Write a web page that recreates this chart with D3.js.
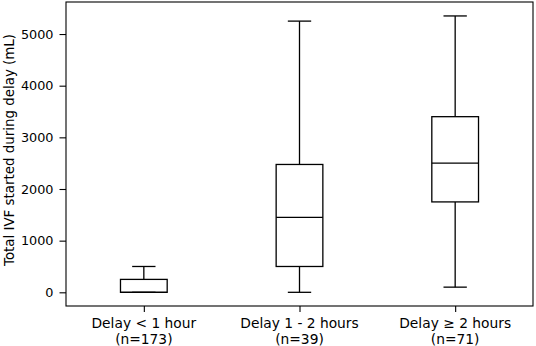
<!DOCTYPE html>
<html>
<head>
<meta charset="utf-8">
<script src="https://cdn.jsdelivr.net/npm/d3@7"></script>
<style>
  body { margin: 0; background: #fff; }
  text { font-family: "DejaVu Sans", sans-serif; fill: #000; }
</style>
</head>
<body>
<svg width="536" height="346"></svg>
<script>
// group labels and box-plot statistics (mL)
var groups = ['Delay < 1 hour', 'Delay 1 - 2 hours', 'Delay \u2265 2 hours'];
var counts = ['(n=173)', '(n=39)', '(n=71)'];
var whiskLow = [0, 0, 100];
var q1 = [0, 500, 1750];
var median = [0, 1450, 2500];
var q3 = [250, 2475, 3400];
var whiskHigh = [500, 5250, 5350];
var yTicks = [0, 1000, 2000, 3000, 4000, 5000];

var svg = d3.select('svg');
var padding = {t: 2, r: 3, b: 40, l: 66};
var chartWidth = 536 - padding.l - padding.r;
var chartHeight = 346 - padding.t - padding.b;

var chartG = svg.append('g')
    .attr('transform', 'translate(' + [padding.l, padding.t] + ')');

var xScale = d3.scaleLinear().domain([0.5, 3.5]).range([0, chartWidth]);
var yScale = d3.scaleLinear().domain([-265, 5620]).range([chartHeight, 0]);

var boxW = xScale(1.3) - xScale(1);
var capW = boxW / 2;

// y axis
var yAxisG = chartG.append('g')
    .call(d3.axisLeft(yScale).tickValues(yTicks).tickSize(6.5).tickPadding(6).tickFormat(d3.format('d')));
yAxisG.select('.domain').remove();
yAxisG.selectAll('line').attr('stroke-width', 1.1);
yAxisG.selectAll('text').style('font-size', '12.8px').style('font-family', '"DejaVu Sans", sans-serif');

// x axis
var xAxisG = chartG.append('g')
    .attr('transform', 'translate(' + [0, chartHeight] + ')')
    .call(d3.axisBottom(xScale).tickValues([1, 2, 3]).tickSize(6).tickFormat(''));
xAxisG.select('.domain').remove();
xAxisG.selectAll('line').attr('stroke-width', 1.1);

groups.forEach(function(g, i) {
    var t = chartG.append('text')
        .attr('x', xScale(i + 1))
        .attr('y', chartHeight + 22)
        .attr('text-anchor', 'middle')
        .style('font-size', '13.8px');
    t.append('tspan').attr('x', xScale(i + 1)).text(g);
    t.append('tspan').attr('x', xScale(i + 1)).attr('dy', 15.5).text(counts[i]);
});

// frame
chartG.append('rect')
    .attr('width', chartWidth).attr('height', chartHeight)
    .attr('fill', 'none').attr('stroke', '#000').attr('stroke-width', 1.1);

// boxes
var idx = d3.range(groups.length);
var boxG = chartG.selectAll('.box').data(idx).enter()
    .append('g').attr('class', 'box')
    .attr('stroke', '#000').attr('stroke-width', 1.3).attr('fill', 'none');

boxG.append('line')
    .attr('x1', function(i) { return xScale(i + 1); })
    .attr('x2', function(i) { return xScale(i + 1); })
    .attr('y1', function(i) { return yScale(whiskLow[i]); })
    .attr('y2', function(i) { return yScale(q1[i]); });
boxG.append('line')
    .attr('x1', function(i) { return xScale(i + 1); })
    .attr('x2', function(i) { return xScale(i + 1); })
    .attr('y1', function(i) { return yScale(q3[i]); })
    .attr('y2', function(i) { return yScale(whiskHigh[i]); });
boxG.append('line')
    .attr('x1', function(i) { return xScale(i + 1) - capW / 2; })
    .attr('x2', function(i) { return xScale(i + 1) + capW / 2; })
    .attr('y1', function(i) { return yScale(whiskLow[i]); })
    .attr('y2', function(i) { return yScale(whiskLow[i]); });
boxG.append('line')
    .attr('x1', function(i) { return xScale(i + 1) - capW / 2; })
    .attr('x2', function(i) { return xScale(i + 1) + capW / 2; })
    .attr('y1', function(i) { return yScale(whiskHigh[i]); })
    .attr('y2', function(i) { return yScale(whiskHigh[i]); });
boxG.append('rect')
    .attr('x', function(i) { return xScale(i + 1) - boxW / 2; })
    .attr('width', boxW)
    .attr('y', function(i) { return yScale(q3[i]); })
    .attr('height', function(i) { return yScale(q1[i]) - yScale(q3[i]); });
boxG.append('line')
    .attr('x1', function(i) { return xScale(i + 1) - boxW / 2; })
    .attr('x2', function(i) { return xScale(i + 1) + boxW / 2; })
    .attr('y1', function(i) { return yScale(median[i]); })
    .attr('y2', function(i) { return yScale(median[i]); });

// y label
svg.append('text')
    .attr('transform', 'translate(13.5,150) rotate(-90)')
    .attr('text-anchor', 'middle')
    .style('font-size', '13.4px')
    .text('Total IVF started during delay (mL)');
</script>
</body>
</html>
